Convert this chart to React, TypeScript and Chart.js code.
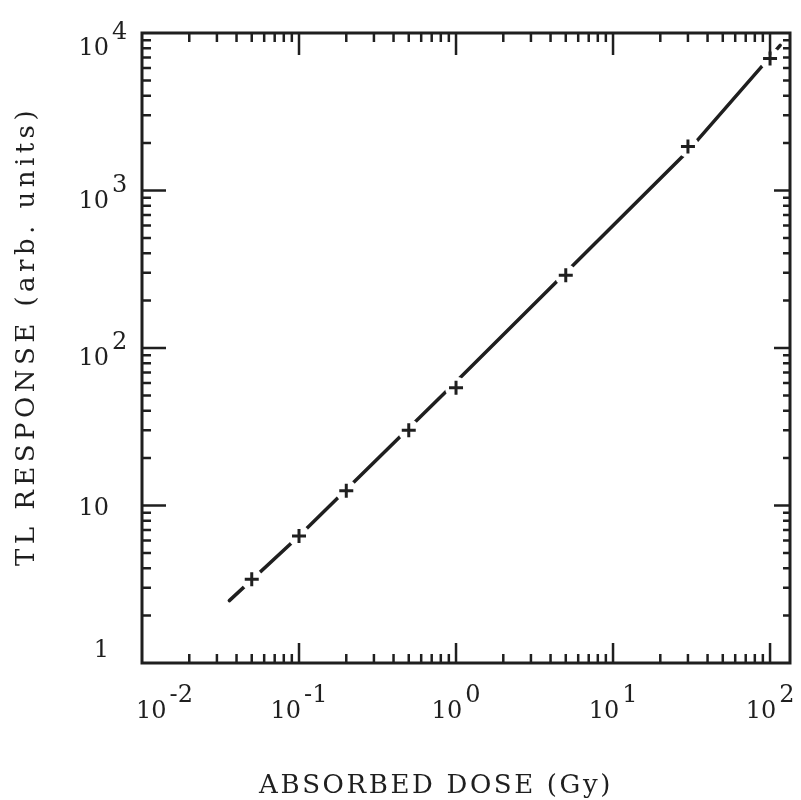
import React, { useEffect, useRef } from "react";
import { Chart, registerables } from "chart.js";

Chart.register(...registerables);

// ---- data ----
const doseGy = [0.05, 0.1, 0.2, 0.5, 1, 5, 30, 100];
const tlResponse = [3.4, 6.4, 12.4, 30, 56, 290, 1900, 6900];
// hand-drawn response curve through the measurements
const curveDose = [0.036, 0.1, 1, 30, 116];
const curveResponse = [2.49, 6.4, 61, 1780, 8350];

const xTickValues = [0.01, 0.1, 1, 10, 100];
const xTickBase = ["10", "10", "10", "10", "10"];
const xTickExp = ["-2", "-1", "0", "1", "2"];
const yTickValues = [1, 10, 100, 1000, 10000];
const yTickBase = ["1", "10", "10", "10", "10"];
const yTickExp = ["", "", "2", "3", "4"];

const xTitle = "ABSORBED DOSE (Gy)";
const yTitle = "TL RESPONSE (arb. units)";

const INK = "#1f1f1f";
const FONT = "'DejaVu Serif', 'Liberation Serif', serif";

function setSpacing(ctx: any, px: number) {
  if ("letterSpacing" in ctx) ctx.letterSpacing = `${px}px`;
}

function spacedText(ctx: any, text: string, left: number, y: number, target: number) {
  setSpacing(ctx, 0);
  const w = ctx.measureText(text).width;
  const sp = (target - w) / text.length;
  setSpacing(ctx, sp);
  ctx.textAlign = "left";
  ctx.fillText(text, left, y);
  setSpacing(ctx, 0);
}

const axesPlugin = {
  id: "typewriterAxes",
  afterDraw(chart: any) {
    const { ctx, chartArea: a, scales } = chart;
    const xs = scales.x;
    const ys = scales.y;
    ctx.save();
    ctx.strokeStyle = INK;
    ctx.fillStyle = INK;
    ctx.lineCap = "butt";

    // frame
    ctx.lineWidth = 3;
    ctx.strokeRect(a.left, a.top, a.right - a.left, a.bottom - a.top);

    // x ticks (bottom pointing up, top pointing down)
    ctx.lineWidth = 2.5;
    for (let d = -3; d <= 3; d++) {
      for (let m = 1; m <= 9; m++) {
        const v = m * Math.pow(10, d);
        if (v < xs.min * 0.999 || v > xs.max * 1.001) continue;
        const px = xs.getPixelForValue(v);
        if (px <= a.left + 2 || px >= a.right - 2) continue;
        const major = m === 1;
        ctx.beginPath();
        ctx.moveTo(px, a.bottom);
        ctx.lineTo(px, a.bottom - (major ? 20 : 9));
        ctx.moveTo(px, a.top);
        ctx.lineTo(px, a.top + (major ? 22 : 9));
        ctx.stroke();
      }
    }
    // y ticks (left pointing right, right pointing left)
    for (let d = -1; d <= 5; d++) {
      for (let m = 1; m <= 9; m++) {
        const v = m * Math.pow(10, d);
        if (v < ys.min * 0.999 || v > ys.max * 1.001) continue;
        const py = ys.getPixelForValue(v);
        if (py <= a.top + 2 || py >= a.bottom - 2) continue;
        const major = m === 1;
        ctx.beginPath();
        ctx.moveTo(a.left, py);
        ctx.lineTo(a.left + (major ? 24 : 9), py);
        ctx.moveTo(a.right, py);
        ctx.lineTo(a.right - (major ? 16 : 7), py);
        ctx.stroke();
      }
    }

    // tick labels
    setSpacing(ctx, 0);
    ctx.font = `24px ${FONT}`;
    ctx.textBaseline = "alphabetic";
    const baseRight = a.left - 33;
    yTickValues.forEach((v, i) => {
      const py = ys.getPixelForValue(v);
      const base = yTickBase[i];
      const exp = yTickExp[i];
      ctx.textAlign = "right";
      if (exp) {
        const adj = i === yTickValues.length - 1 ? 5 : 0;
        ctx.fillText(base, baseRight, py + 17 + adj);
        ctx.textAlign = "left";
        ctx.fillText(exp, baseRight + 3, py + 1 + adj);
      } else {
        const atBottom = py > a.bottom - 2;
        ctx.fillText(base, baseRight, atBottom ? py - 6 : py + 9);
      }
    });
    xTickValues.forEach((v, i) => {
      const px = xs.getPixelForValue(v);
      const base = xTickBase[i];
      const exp = xTickExp[i];
      const wb = ctx.measureText(base).width;
      const we = ctx.measureText(exp).width;
      const total = wb + 3 + we;
      let left = px - total / 2;
      if (left < a.left - 6) left = a.left - 6;
      ctx.textAlign = "left";
      ctx.fillText(base, left, a.bottom + 55);
      ctx.fillText(exp, left + wb + 3, a.bottom + 39);
    });

    // axis titles
    ctx.font = `26px ${FONT}`;
    const xw = 354;
    spacedText(ctx, xTitle, (a.left + a.right) / 2 - 30 - xw / 2, a.bottom + 130, xw);
    ctx.save();
    ctx.translate(34, (a.top + a.bottom) / 2 - 12);
    ctx.rotate(-Math.PI / 2);
    const yw = 460;
    spacedText(ctx, yTitle, -yw / 2, 0, yw);
    ctx.restore();

    ctx.restore();
  },
};

export default function App() {
  const ref = useRef<HTMLCanvasElement | null>(null);
  useEffect(() => {
    if (!ref.current) return;
    const pts = doseGy.map((x, i) => ({ x, y: tlResponse[i] }));
    const curve = curveDose.map((x, i) => ({ x, y: curveResponse[i] }));
    const chart = new Chart(ref.current, {
      type: "scatter",
      data: {
        datasets: [
          {
            label: "curve",
            data: curve,
            showLine: true,
            borderColor: INK,
            borderWidth: 3.5,
            borderCapStyle: "round",
            pointRadius: 0,
            order: 3,
          },
          {
            label: "halo",
            data: pts,
            showLine: false,
            pointRadius: 11,
            pointBackgroundColor: "#ffffff",
            pointBorderWidth: 0,
            pointBorderColor: "#ffffff",
            order: 2,
          },
          {
            label: "measured",
            data: pts,
            showLine: false,
            pointStyle: "cross",
            pointRadius: 7,
            pointBorderColor: INK,
            pointBackgroundColor: INK,
            pointBorderWidth: 3,
            order: 1,
          },
        ],
      } as any,
      options: {
        responsive: false,
        animation: false,
        devicePixelRatio: 1,
        layout: { padding: { left: 142, top: 33, right: 4, bottom: 137 } },
        plugins: { legend: { display: false }, tooltip: { enabled: false } },
        scales: {
          x: { type: "logarithmic", min: 0.01, max: 134, display: false },
          y: { type: "logarithmic", min: 1, max: 10000, display: false },
        },
      } as any,
      plugins: [axesPlugin],
    });
    return () => chart.destroy();
  }, []);
  return (
    <div style={{ position: "absolute", left: 0, top: 0, width: 801, height: 800, background: "#fff" }}>
      <canvas ref={ref} width={801} height={800} style={{ display: "block", width: 801, height: 800 }} />
    </div>
  );
}
